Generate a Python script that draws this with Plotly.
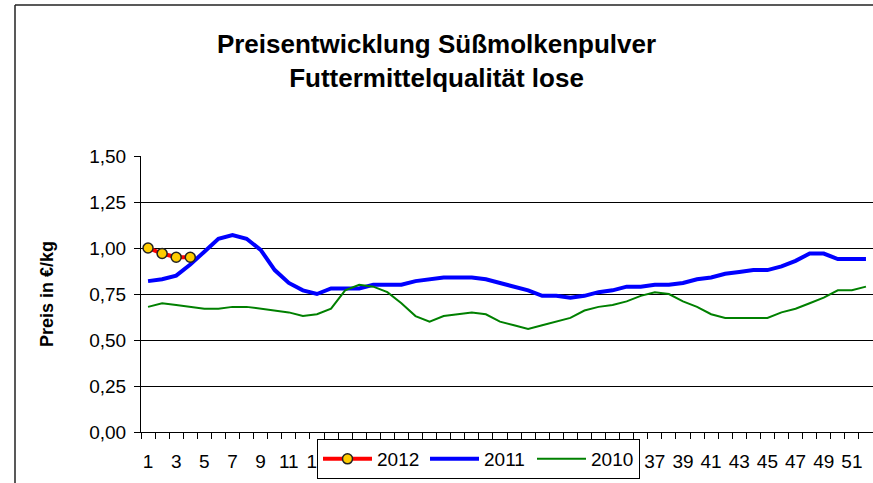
import plotly.graph_objects as go

# Kalenderwochen 1-52
weeks = list(range(1, 53))

# Preise in €/kg je Kalenderwoche
price_2012 = [1.00, 0.97, 0.95, 0.95]
price_2011 = [0.82, 0.83, 0.85, 0.91, 0.98, 1.05, 1.07, 1.05, 0.99, 0.88,
              0.81, 0.77, 0.75, 0.78, 0.78, 0.78, 0.80, 0.80, 0.80, 0.82,
              0.83, 0.84, 0.84, 0.84, 0.83, 0.81, 0.79, 0.77, 0.74, 0.74,
              0.73, 0.74, 0.76, 0.77, 0.79, 0.79, 0.80, 0.80, 0.81, 0.83,
              0.84, 0.86, 0.87, 0.88, 0.88, 0.90, 0.93, 0.97, 0.97, 0.94,
              0.94, 0.94]
price_2010 = [0.68, 0.70, 0.69, 0.68, 0.67, 0.67, 0.68, 0.68, 0.67, 0.66,
              0.65, 0.63, 0.64, 0.67, 0.77, 0.80, 0.79, 0.76, 0.70, 0.63,
              0.60, 0.63, 0.64, 0.65, 0.64, 0.60, 0.58, 0.56, 0.58, 0.60,
              0.62, 0.66, 0.68, 0.69, 0.71, 0.74, 0.76, 0.75, 0.71, 0.68,
              0.64, 0.62, 0.62, 0.62, 0.62, 0.65, 0.67, 0.70, 0.73, 0.77,
              0.77, 0.79]

y_tickvals = [0, 0.25, 0.5, 0.75, 1.0, 1.25, 1.5]
y_ticktext = ["0,00", "0,25", "0,50", "0,75", "1,00", "1,25", "1,50"]
x_tickvals = list(range(1, 53, 2))
# Beschriftungen unter der Legende bleiben leer (dort verdeckt)
x_ticktext = ["" if 15 <= w <= 35 else str(w) for w in x_tickvals]

FONT = "Liberation Sans, Arial, sans-serif"

fig = go.Figure()

fig.add_trace(go.Scatter(
    x=weeks[:len(price_2011)], y=price_2011, name="2011", mode="lines",
    line=dict(color="#0000FF", width=4), legendrank=2,
))
fig.add_trace(go.Scatter(
    x=weeks[:len(price_2010)], y=price_2010, name="2010", mode="lines",
    line=dict(color="#008000", width=2), legendrank=3,
))
fig.add_trace(go.Scatter(
    x=weeks[:len(price_2012)], y=price_2012, name="2012", mode="lines+markers",
    line=dict(color="#FF0000", width=4),
    marker=dict(size=10, color="#FFCC00", line=dict(color="#222222", width=1.5)),
    legendrank=1,
))

# Plotbereich in Pixeln: links 141, rechts 873, oben 156, unten 432
L, R, T, B = 141, 873, 156, 432
W, H = R - L, B - T


def px_x(p):
    return (p - L) / W


def px_y(p):
    return (B - p) / H


fig.update_layout(
    width=873, height=483,
    margin=dict(l=L, r=873 - R, t=T, b=483 - B),
    paper_bgcolor="white", plot_bgcolor="white",
    font=dict(family=FONT, color="black", size=19),
    title=dict(
        text="<b>Preisentwicklung Süßmolkenpulver<br>Futtermittelqualität lose</b>",
        x=0.5, xref="container", xanchor="center",
        y=1 - 53 / 483, yref="container", yanchor="middle",
        font=dict(family=FONT, size=26, color="black"),
    ),
    showlegend=True,
    legend=dict(
        orientation="h",
        x=px_x(317), xanchor="left",
        y=px_y(439), yanchor="top",
        bgcolor="white", bordercolor="black", borderwidth=1,
        font=dict(family=FONT, size=19, color="black"),
        traceorder="normal",
        itemwidth=49,
        entrywidth=43, entrywidthmode="pixels",
    ),
    xaxis=dict(
        range=[0.5, 52.5],
        tickmode="array", tickvals=x_tickvals, ticktext=x_ticktext,
        ticks="", showgrid=False, zeroline=False,
        showline=True, linecolor="black", linewidth=1,
        tickfont=dict(family=FONT, size=19, color="black"),
        ticklabelstandoff=12,
        minor=dict(tickmode="linear", tick0=0.5, dtick=1,
                   ticks="outside", ticklen=6, tickcolor="black",
                   showgrid=False),
    ),
    yaxis=dict(
        range=[0, 1.5],
        tickmode="array", tickvals=y_tickvals, ticktext=y_ticktext,
        ticks="outside", ticklen=6, tickcolor="black",
        showgrid=True, gridcolor="black", gridwidth=1,
        zeroline=False,
        showline=True, linecolor="black", linewidth=1,
        tickfont=dict(family=FONT, size=19, color="black"),
        ticklabelstandoff=4,
    ),
    annotations=[dict(
        text="<b>Preis in €/kg</b>", textangle=-90,
        xref="paper", yref="paper", x=px_x(47), y=0.5,
        xanchor="center", yanchor="middle", showarrow=False,
        font=dict(family=FONT, size=18, color="black"),
    )],
    shapes=[
        dict(type="line", xref="paper", yref="paper",
             x0=px_x(15), x1=px_x(15), y0=px_y(5), y1=px_y(500),
             line=dict(color="#222222", width=1.5)),
        dict(type="line", xref="paper", yref="paper",
             x0=px_x(15), x1=px_x(880), y0=px_y(5), y1=px_y(5),
             line=dict(color="#222222", width=1.5)),
    ],
)

fig.write_html("out.html")
